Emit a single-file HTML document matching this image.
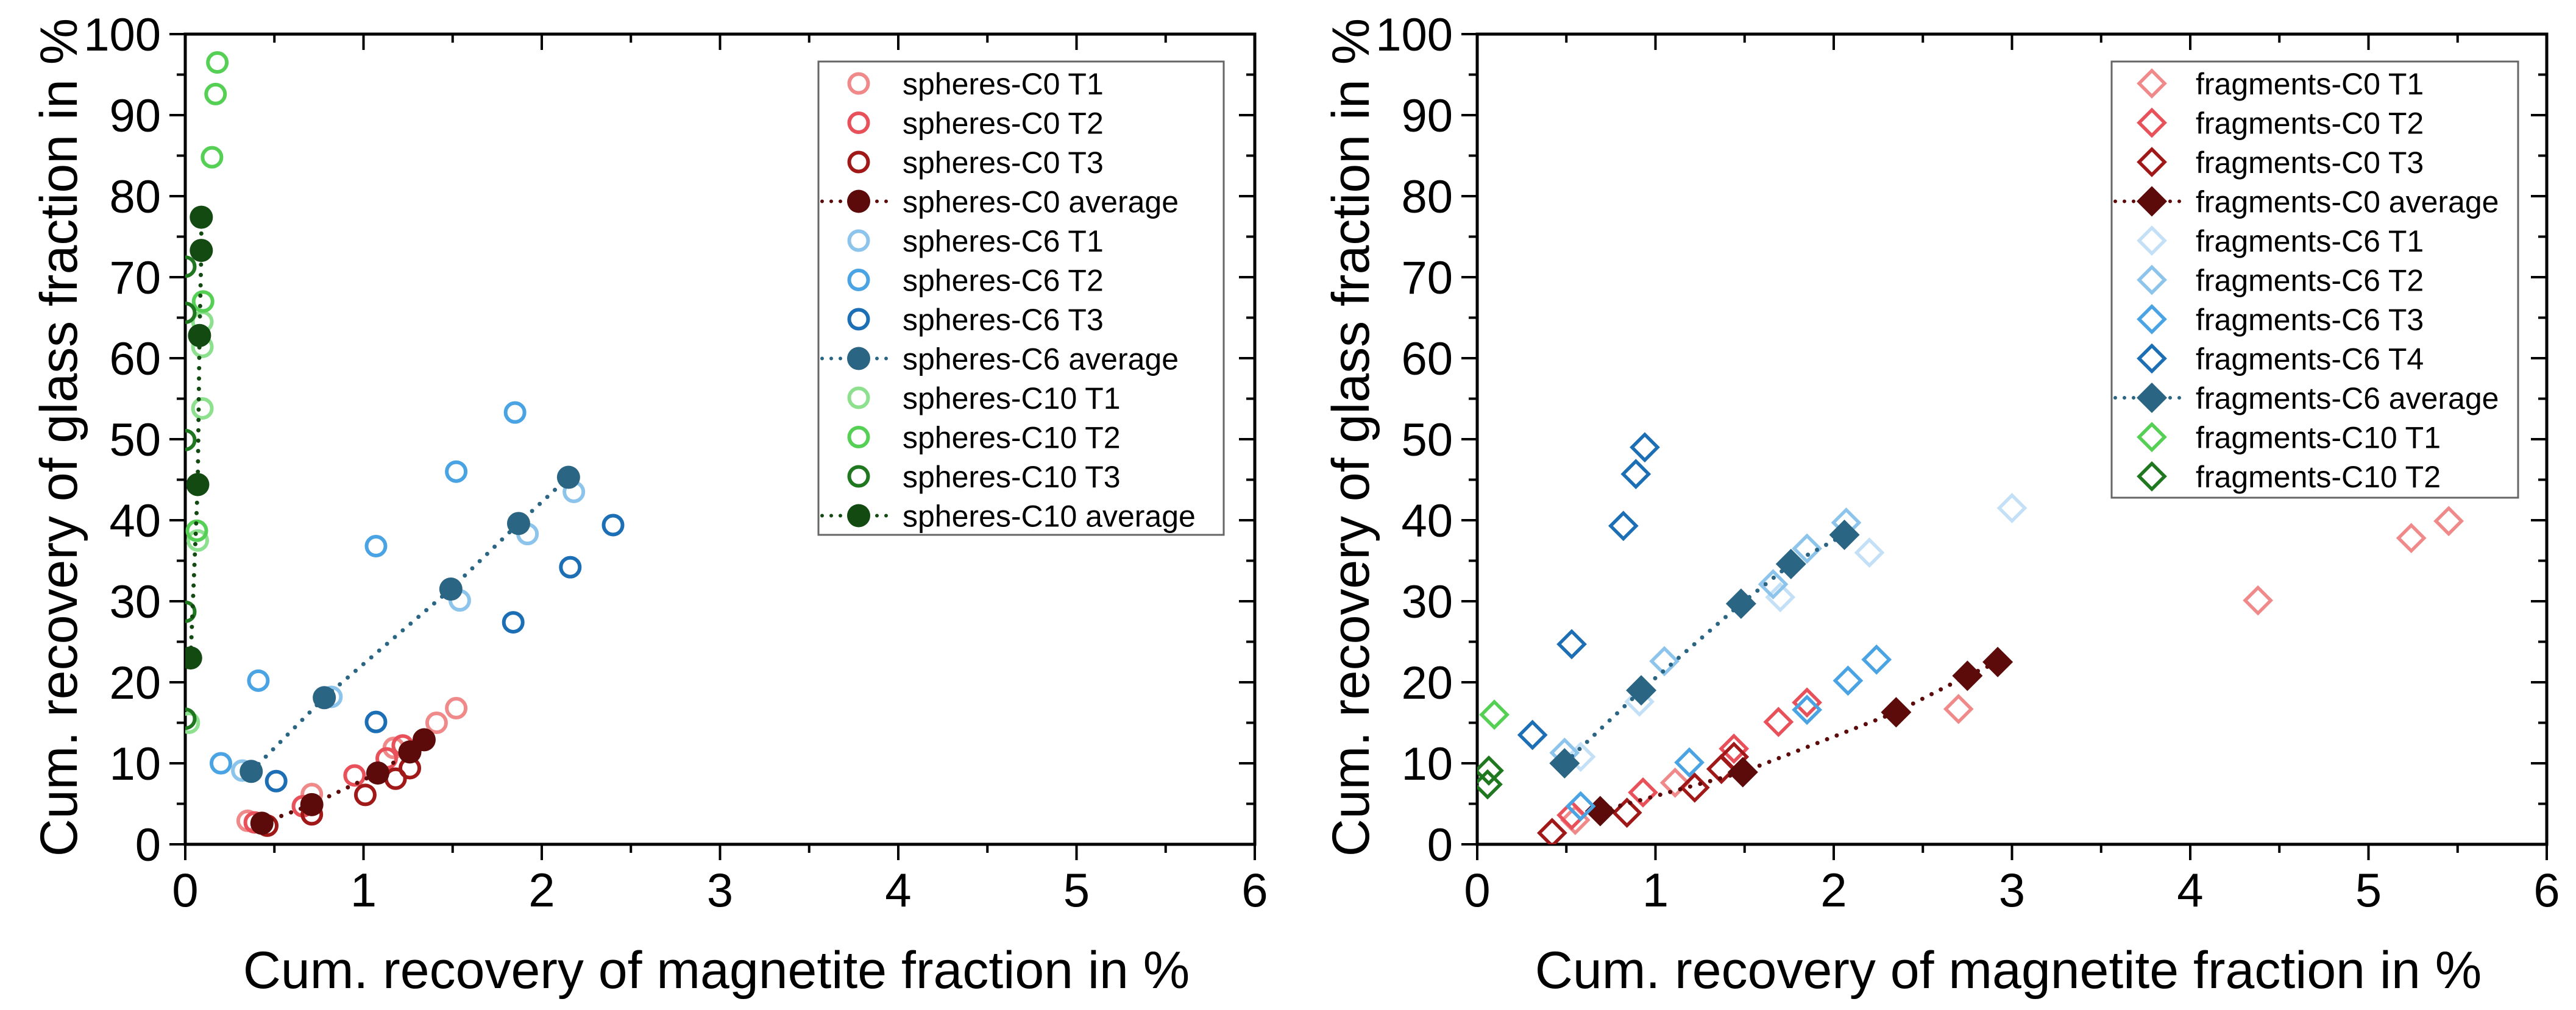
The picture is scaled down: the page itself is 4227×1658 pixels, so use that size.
<!DOCTYPE html>
<html><head><meta charset="utf-8">
<style>
html,body{margin:0;padding:0;background:#fff;}
svg{display:block;font-family:"Liberation Sans",Arial,sans-serif;}
</style></head>
<body>
<svg id="chart" width="4227" height="1658" viewBox="0 0 4227 1658" xmlns="http://www.w3.org/2000/svg">
<defs>
<clipPath id="clipL"><rect x="304" y="56" width="1755" height="1330"/></clipPath>
<clipPath id="clipR"><rect x="2424" y="56" width="1755" height="1330"/></clipPath>
</defs>
</svg>
<script>
// ---------- data ----------
const xTicks = [0,1,2,3,4,5,6];
const yTicks = [0,10,20,30,40,50,60,70,80,90,100];

const sphC0T1x = [0.35,0.71,1.17,1.41,1.52];
const sphC0T1y = [2.9,6.2,11.9,15.0,16.8];
const sphC0T2x = [0.39,0.66,0.95,1.13,1.22];
const sphC0T2y = [2.7,4.7,8.5,10.6,12.2];
const sphC0T3x = [0.46,0.71,1.01,1.18,1.26];
const sphC0T3y = [2.3,3.7,6.1,8.1,9.4];
const sphC0Avgx = [0.43,0.71,1.08,1.26,1.34];
const sphC0Avgy = [2.6,4.9,8.8,11.4,12.9];
const sphC6T1x = [0.32,0.82,1.54,1.92,2.18];
const sphC6T1y = [9.1,18.2,30.1,38.3,43.5];
const sphC6T2x = [0.2,0.41,1.07,1.52,1.85];
const sphC6T2y = [10.0,20.2,36.8,46.0,53.3];
const sphC6T3x = [0.51,1.07,1.84,2.16,2.40];
const sphC6T3y = [7.8,15.1,27.4,34.2,39.4];
const sphC6Avgx = [0.37,0.78,1.49,1.87,2.15];
const sphC6Avgy = [9.0,18.1,31.5,39.6,45.3];
const sphC10T1x = [0.02,0.07,0.096,0.096,0.096];
const sphC10T1y = [15.0,37.5,53.8,61.4,64.5];
const sphC10T2x = [0.065,0.10,0.15,0.17,0.18];
const sphC10T2y = [38.7,67.0,84.8,92.6,96.5];
const sphC10T3x = [0.0,0.0,0.0,0.0,0.0];
const sphC10T3y = [15.5,28.7,49.9,65.6,71.3];
const sphC10Avgx = [0.03,0.07,0.08,0.09,0.09];
const sphC10Avgy = [23.0,44.4,62.8,73.3,77.4];

const frC0T1x = [0.55,1.11,2.70,4.38,5.24,5.45];
const frC0T1y = [3.0,7.6,16.7,30.1,37.8,39.9];
const frC0T2x = [0.53,0.93,1.44,1.69,1.85];
const frC0T2y = [3.6,6.4,11.8,15.1,17.5];
const frC0T3x = [0.42,0.84,1.22,1.37,1.44];
const frC0T3y = [1.4,3.9,7.0,9.3,10.8];
const frC0Avgx = [0.69,1.49,2.35,2.75,2.92];
const frC0Avgy = [4.1,8.9,16.3,20.8,22.5];
const frC6T1x = [0.58,0.91,1.70,2.20,3.0];
const frC6T1y = [10.8,17.6,30.5,36.0,41.5];
const frC6T2x = [0.49,1.05,1.66,1.85,2.07];
const frC6T2y = [11.3,22.6,32.1,36.5,39.7];
const frC6T3x = [0.58,1.19,1.85,2.08,2.24];
const frC6T3y = [4.7,10.1,16.6,20.2,22.8];
const frC6T4x = [0.31,0.53,0.82,0.89,0.94];
const frC6T4y = [13.5,24.7,39.3,45.7,49.0];
const frC6Avgx = [0.49,0.92,1.48,1.76,2.06];
const frC6Avgy = [10.0,19.0,29.7,34.6,38.2];
const frC10T1x = [0.096];
const frC10T1y = [16.0];
const frC10T2x = [0.065,0.058];
const frC10T2y = [9.1,7.4];

// ---------- geometry ----------
const NS = "http://www.w3.org/2000/svg";
const svg = document.getElementById('chart');
const Y0 = 1386, YPX = 13.3, XPX = 292.5;
function mk(tag, attrs, parent){ const e=document.createElementNS(NS,tag); for(const k in attrs) e.setAttribute(k,attrs[k]); (parent||svg).appendChild(e); return e; }

function drawMarker(parent, shape, x, y, color, filled){
  if(shape==='circle'){
    return filled ? mk('circle',{cx:x,cy:y,r:19,fill:color},parent)
                  : mk('circle',{cx:x,cy:y,r:15.5,fill:'none',stroke:color,'stroke-width':6},parent);
  } else {
    const d = filled?25:21;
    const pts = `${x},${y-d} ${x+d},${y} ${x},${y+d} ${x-d},${y}`;
    return filled ? mk('polygon',{points:pts,fill:color},parent)
                  : mk('polygon',{points:pts,fill:'none',stroke:color,'stroke-width':5.5},parent);
  }
}

function buildPanel(panelName, X0, clipId, series, legendBox){
  const xs = v => X0 + v*XPX;
  const ys = v => Y0 - v*YPX;
  const g = mk('g',{});
  
  
  const X1 = xs(6), Ytop = ys(100);
  const frame = mk('rect',{x:X0,y:Ytop,width:X1-X0,height:Y0-Ytop,fill:'none',stroke:'#000','stroke-width':5},g);
  
  
  for(let i=0;i<=12;i++){
    const v=i*0.5, x=xs(v), major=(i%2===0), L=major?26:14;
    mk('line',{x1:x,y1:Y0,x2:x,y2:Y0+L,stroke:'#000','stroke-width':4},g);
    mk('line',{x1:x,y1:Ytop,x2:x,y2:Ytop+L,stroke:'#000','stroke-width':4},g);
  }
  xTicks.forEach(v=>{
    const t=mk('text',{x:xs(v),y:1488,'font-size':78,'text-anchor':'middle'},g);
    t.textContent=v;
    
    
  });
  for(let i=0;i<=20;i++){
    const v=i*5, y=ys(v), major=(i%2===0), L=major?26:14;
    mk('line',{x1:X0-L,y1:y,x2:X0,y2:y,stroke:'#000','stroke-width':4},g);
    mk('line',{x1:X1-L,y1:y,x2:X1,y2:y,stroke:'#000','stroke-width':4},g);
  }
  yTicks.forEach(v=>{
    const t=mk('text',{x:X0-40,y:ys(v)+27,'font-size':76,'text-anchor':'end'},g);
    t.textContent=v;
    
    
  });
  const xt=mk('text',{x:(X0+X1)/2-6,y:1622,'font-size':86,'text-anchor':'middle'},g);
  xt.textContent='Cum. recovery of magnetite fraction in %';
  
  
  const cx=X0-178, cy=718;
  const yt=mk('text',{x:cx,y:cy,'font-size':86,'text-anchor':'middle',transform:`rotate(-90 ${cx} ${cy})`},g);
  yt.textContent='Cum. recovery of glass fraction in %';
  
  
  const dg = mk('g',{'clip-path':`url(#${clipId})`},g);
  series.forEach(s=>{
    const sg = mk('g',{},dg);
    
    
    if(s.line){
      const pts = s.x.map((v,i)=>xs(v)+','+ys(s.y[i])).join(' ');
      mk('polyline',{points:pts,fill:'none',stroke:s.color,'stroke-width':7,'stroke-dasharray':'0 17','stroke-linecap':'round'},sg);
    }
    s.x.forEach((v,i)=>{
      const m = drawMarker(sg, s.shape, xs(v), ys(s.y[i]), s.color, s.filled);
      
      
    });
  });
  const lx=legendBox[0], ly=legendBox[1], lw=legendBox[2], lh=legendBox[3];
  const lg = mk('g',{},g);
  
  
  mk('rect',{x:lx,y:ly,width:lw,height:lh,fill:'#fff',stroke:'#666','stroke-width':3},lg);
  series.forEach((s,i)=>{
    const ey = ly+36+i*64.5;
    const eg = mk('g',{},lg);
    
    
    const mx = lx+66;
    if(s.line) mk('line',{x1:lx+6,y1:ey,x2:lx+126,y2:ey,stroke:s.color,'stroke-width':6,'stroke-dasharray':'0 15','stroke-linecap':'round'},eg);
    drawMarker(eg, s.shape, mx, ey, s.color, s.filled);
    const t=mk('text',{x:lx+138,y:ey+18,'font-size':50},eg);
    t.textContent=s.label;
  });
}

const cPink='#f08a8a', cRed='#e8505a', cDRed='#a01818', cAvgR='#5c0a0a';
const cB0='#c4e0f6', cB1='#8cc4ec', cB2='#4aa3e3', cB3='#1c6fb4', cAvgB='#2b6584';
const cG1='#8de08d', cG2='#55d055', cG3='#1f781f', cAvgG='#124a12';

buildPanel('spheres-panel', 304, 'clipL', [
  {name:'series-spheres-c0-t1',label:'spheres-C0 T1',x:sphC0T1x,y:sphC0T1y,color:cPink,shape:'circle'},
  {name:'series-spheres-c0-t2',label:'spheres-C0 T2',x:sphC0T2x,y:sphC0T2y,color:cRed,shape:'circle'},
  {name:'series-spheres-c0-t3',label:'spheres-C0 T3',x:sphC0T3x,y:sphC0T3y,color:cDRed,shape:'circle'},
  {name:'series-spheres-c0-average',label:'spheres-C0 average',x:sphC0Avgx,y:sphC0Avgy,color:cAvgR,shape:'circle',filled:true,line:true},
  {name:'series-spheres-c6-t1',label:'spheres-C6 T1',x:sphC6T1x,y:sphC6T1y,color:cB1,shape:'circle'},
  {name:'series-spheres-c6-t2',label:'spheres-C6 T2',x:sphC6T2x,y:sphC6T2y,color:cB2,shape:'circle'},
  {name:'series-spheres-c6-t3',label:'spheres-C6 T3',x:sphC6T3x,y:sphC6T3y,color:cB3,shape:'circle'},
  {name:'series-spheres-c6-average',label:'spheres-C6 average',x:sphC6Avgx,y:sphC6Avgy,color:cAvgB,shape:'circle',filled:true,line:true},
  {name:'series-spheres-c10-t1',label:'spheres-C10 T1',x:sphC10T1x,y:sphC10T1y,color:cG1,shape:'circle'},
  {name:'series-spheres-c10-t2',label:'spheres-C10 T2',x:sphC10T2x,y:sphC10T2y,color:cG2,shape:'circle'},
  {name:'series-spheres-c10-t3',label:'spheres-C10 T3',x:sphC10T3x,y:sphC10T3y,color:cG3,shape:'circle'},
  {name:'series-spheres-c10-average',label:'spheres-C10 average',x:sphC10Avgx,y:sphC10Avgy,color:cAvgG,shape:'circle',filled:true,line:true}
], [1343,101,665,777]);

buildPanel('fragments-panel', 2424, 'clipR', [
  {name:'series-fragments-c0-t1',label:'fragments-C0 T1',x:frC0T1x,y:frC0T1y,color:cPink,shape:'diamond'},
  {name:'series-fragments-c0-t2',label:'fragments-C0 T2',x:frC0T2x,y:frC0T2y,color:cRed,shape:'diamond'},
  {name:'series-fragments-c0-t3',label:'fragments-C0 T3',x:frC0T3x,y:frC0T3y,color:cDRed,shape:'diamond'},
  {name:'series-fragments-c0-average',label:'fragments-C0 average',x:frC0Avgx,y:frC0Avgy,color:cAvgR,shape:'diamond',filled:true,line:true},
  {name:'series-fragments-c6-t1',label:'fragments-C6 T1',x:frC6T1x,y:frC6T1y,color:cB0,shape:'diamond'},
  {name:'series-fragments-c6-t2',label:'fragments-C6 T2',x:frC6T2x,y:frC6T2y,color:cB1,shape:'diamond'},
  {name:'series-fragments-c6-t3',label:'fragments-C6 T3',x:frC6T3x,y:frC6T3y,color:cB2,shape:'diamond'},
  {name:'series-fragments-c6-t4',label:'fragments-C6 T4',x:frC6T4x,y:frC6T4y,color:cB3,shape:'diamond'},
  {name:'series-fragments-c6-average',label:'fragments-C6 average',x:frC6Avgx,y:frC6Avgy,color:cAvgB,shape:'diamond',filled:true,line:true},
  {name:'series-fragments-c10-t1',label:'fragments-C10 T1',x:frC10T1x,y:frC10T1y,color:cG2,shape:'diamond'},
  {name:'series-fragments-c10-t2',label:'fragments-C10 T2',x:frC10T2x,y:frC10T2y,color:cG3,shape:'diamond'}
], [3465,101,667,716]);
</script>
</body></html>
